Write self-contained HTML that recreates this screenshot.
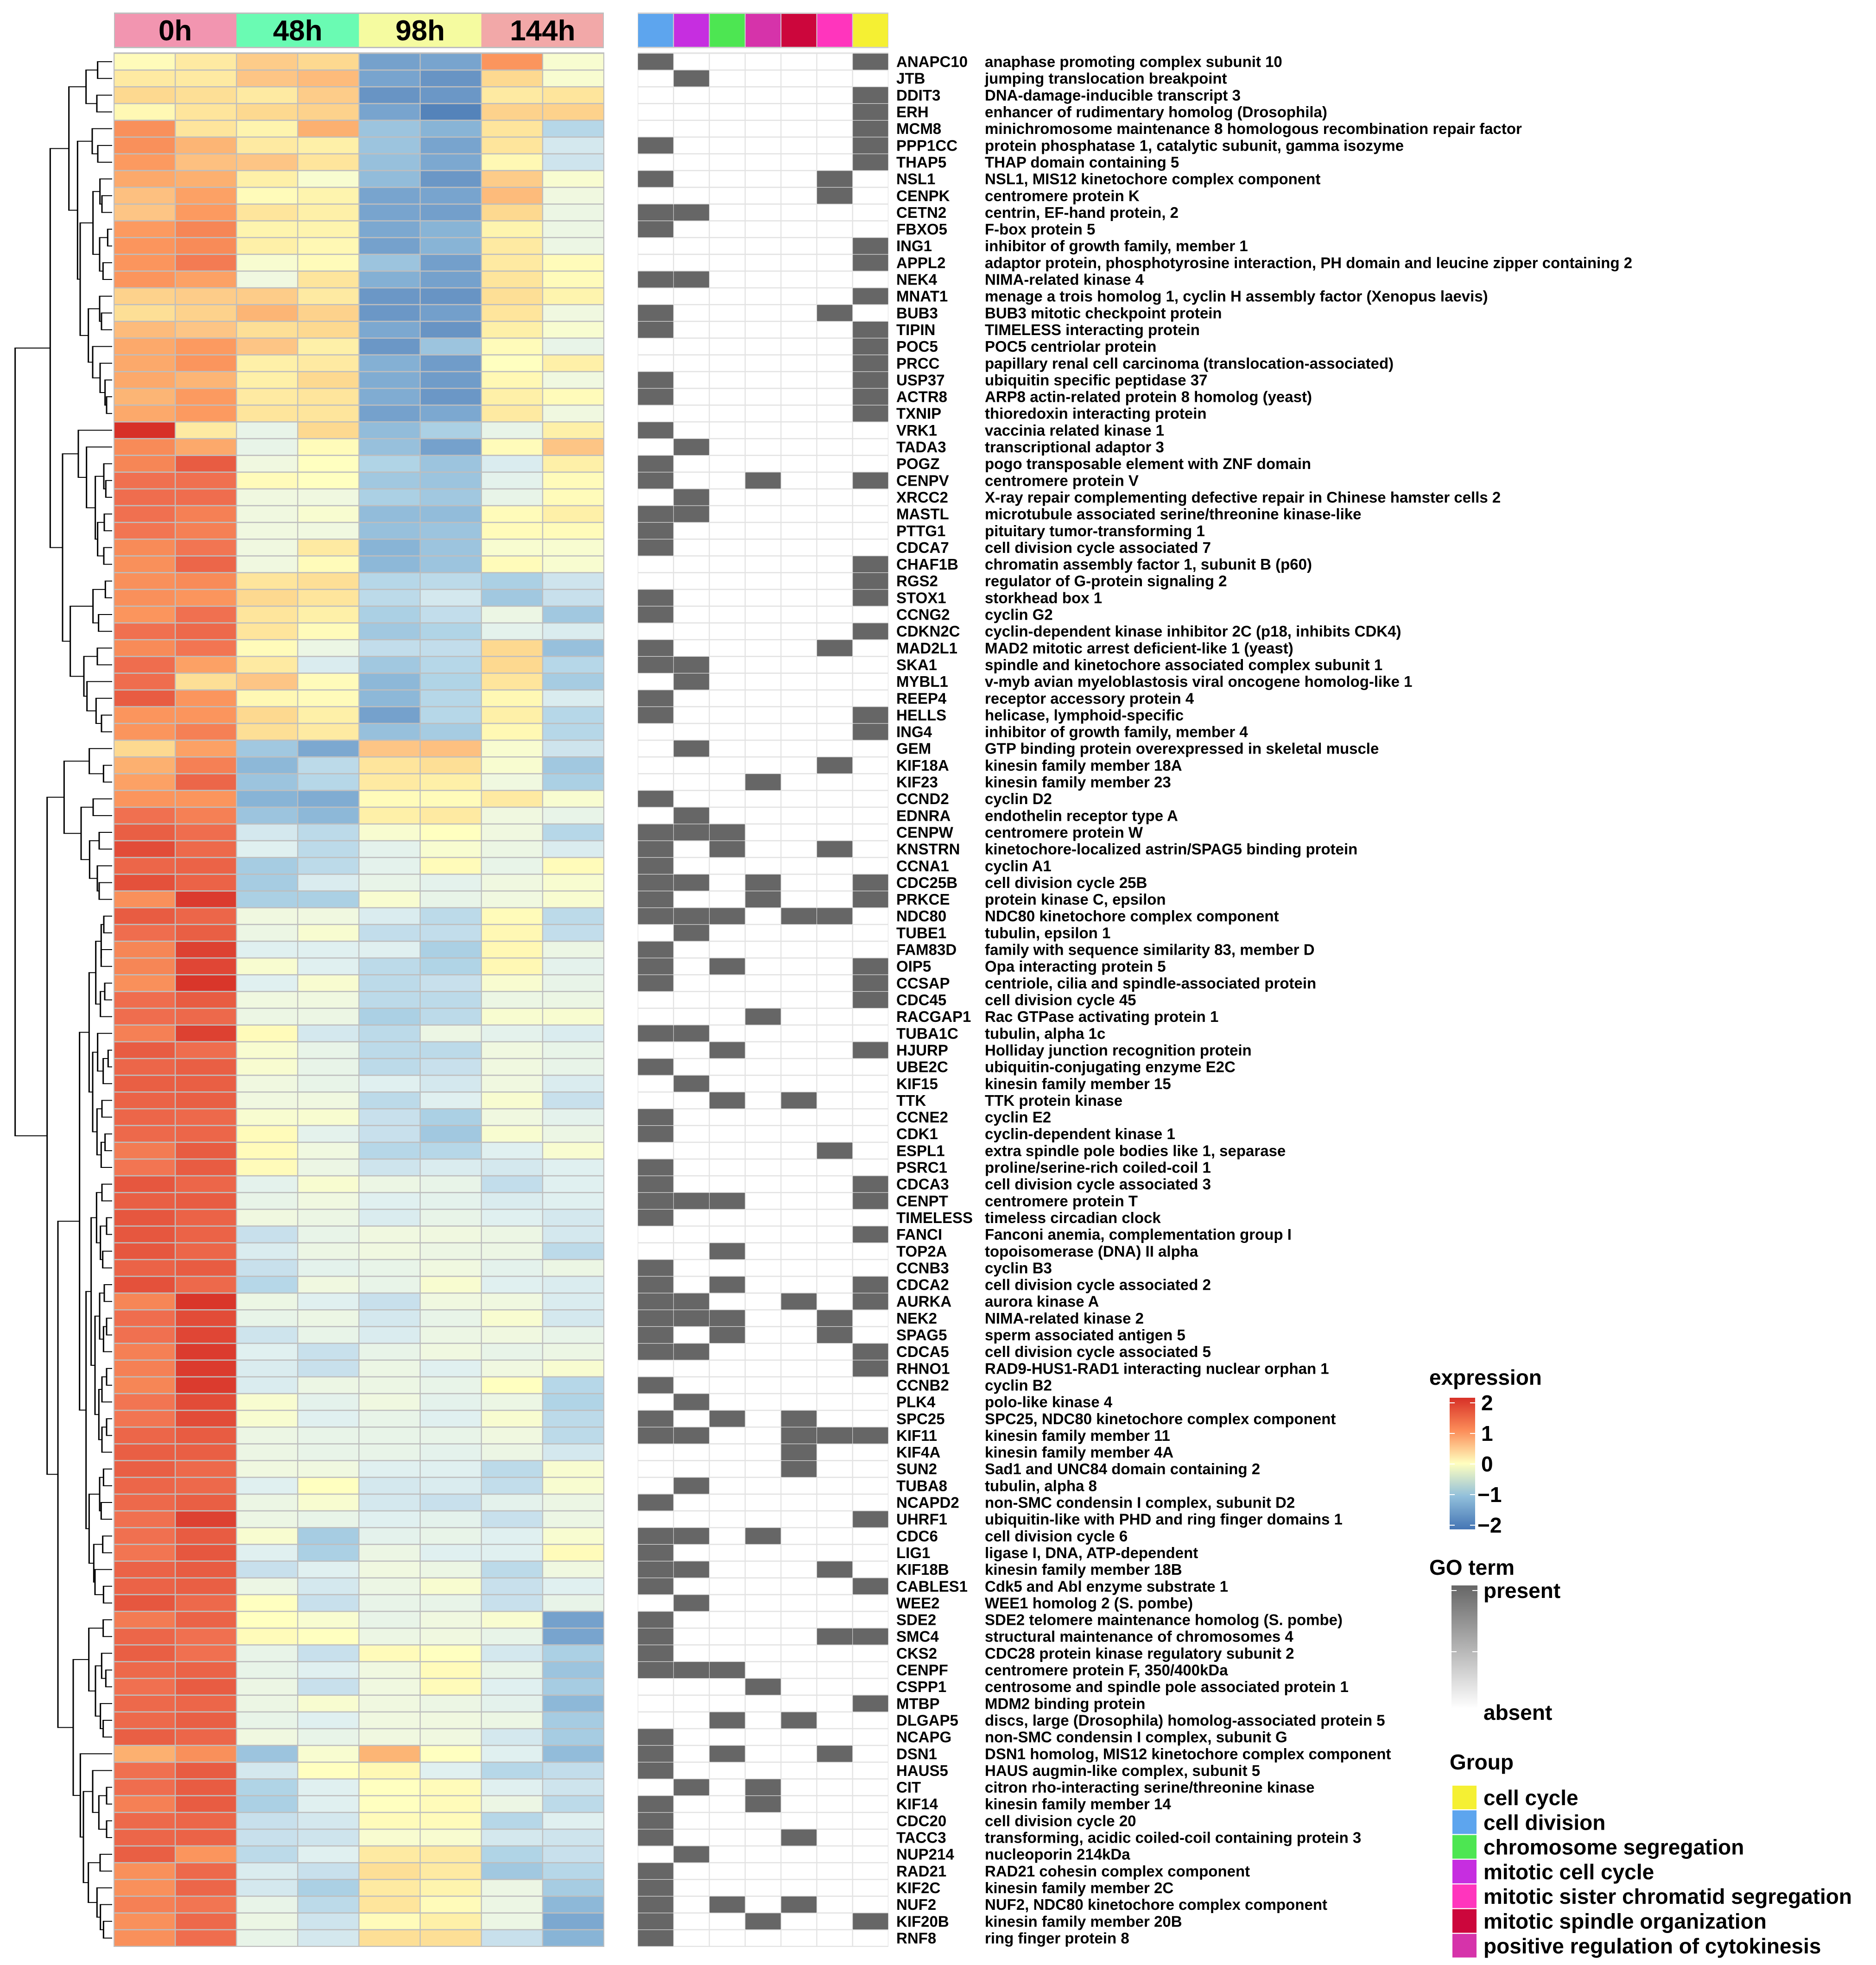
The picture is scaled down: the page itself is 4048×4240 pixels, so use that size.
<!DOCTYPE html>
<html><head><meta charset="utf-8">
<style>
html,body{margin:0;padding:0;background:#fff;}
svg{display:block;font-family:"Liberation Sans",sans-serif;font-weight:bold;}
</style></head>
<body>
<svg id="chart" xmlns="http://www.w3.org/2000/svg" width="4048" height="4240" viewBox="0 0 4048 4240">
<rect x="0" y="0" width="4048" height="4240" fill="#ffffff"/>
<g id="dendro"></g>
<g id="heat"></g>
<g id="go"></g>
<g id="labels"></g>
<g id="legend"></g>
</svg>
<script>
const genes = ["ANAPC10","JTB","DDIT3","ERH","MCM8","PPP1CC","THAP5","NSL1","CENPK","CETN2","FBXO5","ING1","APPL2","NEK4","MNAT1","BUB3","TIPIN","POC5","PRCC","USP37","ACTR8","TXNIP","VRK1","TADA3","POGZ","CENPV","XRCC2","MASTL","PTTG1","CDCA7","CHAF1B","RGS2","STOX1","CCNG2","CDKN2C","MAD2L1","SKA1","MYBL1","REEP4","HELLS","ING4","GEM","KIF18A","KIF23","CCND2","EDNRA","CENPW","KNSTRN","CCNA1","CDC25B","PRKCE","NDC80","TUBE1","FAM83D","OIP5","CCSAP","CDC45","RACGAP1","TUBA1C","HJURP","UBE2C","KIF15","TTK","CCNE2","CDK1","ESPL1","PSRC1","CDCA3","CENPT","TIMELESS","FANCI","TOP2A","CCNB3","CDCA2","AURKA","NEK2","SPAG5","CDCA5","RHNO1","CCNB2","PLK4","SPC25","KIF11","KIF4A","SUN2","TUBA8","NCAPD2","UHRF1","CDC6","LIG1","KIF18B","CABLES1","WEE2","SDE2","SMC4","CKS2","CENPF","CSPP1","MTBP","DLGAP5","NCAPG","DSN1","HAUS5","CIT","KIF14","CDC20","TACC3","NUP214","RAD21","KIF2C","NUF2","KIF20B","RNF8"];
const descriptions = ["anaphase promoting complex subunit 10","jumping translocation breakpoint","DNA-damage-inducible transcript 3","enhancer of rudimentary homolog (Drosophila)","minichromosome maintenance 8 homologous recombination repair factor","protein phosphatase 1, catalytic subunit, gamma isozyme","THAP domain containing 5","NSL1, MIS12 kinetochore complex component","centromere protein K","centrin, EF-hand protein, 2","F-box protein 5","inhibitor of growth family, member 1","adaptor protein, phosphotyrosine interaction, PH domain and leucine zipper containing 2","NIMA-related kinase 4","menage a trois homolog 1, cyclin H assembly factor (Xenopus laevis)","BUB3 mitotic checkpoint protein","TIMELESS interacting protein","POC5 centriolar protein","papillary renal cell carcinoma (translocation-associated)","ubiquitin specific peptidase 37","ARP8 actin-related protein 8 homolog (yeast)","thioredoxin interacting protein","vaccinia related kinase 1","transcriptional adaptor 3","pogo transposable element with ZNF domain","centromere protein V","X-ray repair complementing defective repair in Chinese hamster cells 2","microtubule associated serine/threonine kinase-like","pituitary tumor-transforming 1","cell division cycle associated 7","chromatin assembly factor 1, subunit B (p60)","regulator of G-protein signaling 2","storkhead box 1","cyclin G2","cyclin-dependent kinase inhibitor 2C (p18, inhibits CDK4)","MAD2 mitotic arrest deficient-like 1 (yeast)","spindle and kinetochore associated complex subunit 1","v-myb avian myeloblastosis viral oncogene homolog-like 1","receptor accessory protein 4","helicase, lymphoid-specific","inhibitor of growth family, member 4","GTP binding protein overexpressed in skeletal muscle","kinesin family member 18A","kinesin family member 23","cyclin D2","endothelin receptor type A","centromere protein W","kinetochore-localized astrin/SPAG5 binding protein","cyclin A1","cell division cycle 25B","protein kinase C, epsilon","NDC80 kinetochore complex component","tubulin, epsilon 1","family with sequence similarity 83, member D","Opa interacting protein 5","centriole, cilia and spindle-associated protein","cell division cycle 45","Rac GTPase activating protein 1","tubulin, alpha 1c","Holliday junction recognition protein","ubiquitin-conjugating enzyme E2C","kinesin family member 15","TTK protein kinase","cyclin E2","cyclin-dependent kinase 1","extra spindle pole bodies like 1, separase","proline/serine-rich coiled-coil 1","cell division cycle associated 3","centromere protein T","timeless circadian clock","Fanconi anemia, complementation group I","topoisomerase (DNA) II alpha","cyclin B3","cell division cycle associated 2","aurora kinase A","NIMA-related kinase 2","sperm associated antigen 5","cell division cycle associated 5","RAD9-HUS1-RAD1 interacting nuclear orphan 1","cyclin B2","polo-like kinase 4","SPC25, NDC80 kinetochore complex component","kinesin family member 11","kinesin family member 4A","Sad1 and UNC84 domain containing 2","tubulin, alpha 8","non-SMC condensin I complex, subunit D2","ubiquitin-like with PHD and ring finger domains 1","cell division cycle 6","ligase I, DNA, ATP-dependent","kinesin family member 18B","Cdk5 and Abl enzyme substrate 1","WEE1 homolog 2 (S. pombe)","SDE2 telomere maintenance homolog (S. pombe)","structural maintenance of chromosomes 4","CDC28 protein kinase regulatory subunit 2","centromere protein F, 350/400kDa","centrosome and spindle pole associated protein 1","MDM2 binding protein","discs, large (Drosophila) homolog-associated protein 5","non-SMC condensin I complex, subunit G","DSN1 homolog, MIS12 kinetochore complex component","HAUS augmin-like complex, subunit 5","citron rho-interacting serine/threonine kinase","kinesin family member 14","cell division cycle 20","transforming, acidic coiled-coil containing protein 3","nucleoporin 214kDa","RAD21 cohesin complex component","kinesin family member 2C","NUF2, NDC80 kinetochore complex component","kinesin family member 20B","ring finger protein 8"];
const timepoints = ["0h","48h","98h","144h"];
const timeColors = ["#f295b0","#6afbb3","#f5fba0","#f2a8a8"];
const goColumnColors = ["#5da5ee","#c62ee0","#4de652","#d633aa","#cc063c","#ff35bd","#f5f033"];
const groupNames = ["cell cycle","cell division","chromosome segregation","mitotic cell cycle","mitotic sister chromatid segregation","mitotic spindle organization","positive regulation of cytokinesis"];
const groupColors = ["#f5f033","#5da5ee","#4de652","#c62ee0","#ff35bd","#cc063c","#d633aa"];
const exprTicks = [2,1,0,-1,-2];
const expression = [
[0.05,0.25,0.5,0.4,-1.35,-1.3,0.95,-0.05],[0.25,0.25,0.55,0.65,-1.3,-1.6,0.4,-0.05],[0.4,0.35,0.25,0.5,-1.6,-1.55,0.25,0.3],[0.1,0.3,0.4,0.45,-1.3,-1.85,0.45,0.45],
[1.0,0.3,0.15,0.75,-0.9,-1.1,0.3,-0.65],[1.0,0.7,0.25,0.2,-0.9,-1.3,0.3,-0.4],[0.9,0.6,0.55,0.3,-0.95,-1.25,0.1,-0.45],[0.8,0.75,0.2,-0.05,-1.0,-1.55,0.5,-0.05],
[0.6,0.85,0.05,0.15,-1.3,-1.3,0.65,-0.1],[0.55,0.9,0.3,0.2,-1.3,-1.4,0.4,-0.15],[0.9,1.1,0.15,0.15,-1.25,-1.1,0.15,-0.15],[0.95,1.05,0.2,0.1,-1.35,-1.1,0.25,-0.15],
[0.95,1.2,-0.05,0.05,-0.9,-1.4,0.25,0.05],[0.95,0.85,-0.1,0.3,-1.15,-1.35,0.3,0.05],[0.45,0.5,0.5,0.25,-1.55,-1.6,0.35,0.15],[0.35,0.45,0.7,0.45,-1.55,-1.4,0.3,-0.1],
[0.65,0.55,0.35,0.4,-1.25,-1.6,0.2,-0.05],[0.8,0.9,0.55,0.2,-1.55,-0.9,0.05,-0.2],[0.8,0.95,0.2,0.25,-1.15,-1.45,0.0,0.2],[0.8,0.7,0.2,0.4,-1.2,-1.45,0.1,-0.1],
[0.7,0.9,0.25,0.3,-1.2,-1.55,0.2,0.05],[0.8,0.9,0.3,0.3,-1.35,-1.25,0.25,-0.1],[2.0,0.25,-0.2,0.4,-1.0,-0.75,-0.2,0.2],[1.05,0.8,-0.2,0.05,-0.95,-1.35,0.05,0.55],
[1.1,1.6,-0.1,0.0,-0.7,-0.9,-0.35,0.2],[1.3,1.3,0.05,0.0,-0.85,-0.9,-0.25,0.05],[1.35,1.35,-0.1,-0.1,-0.75,-0.85,-0.2,0.05],[1.3,1.15,-0.1,-0.05,-1.0,-1.0,0.05,0.2],
[1.25,1.15,-0.1,-0.1,-0.95,-0.9,0.05,0.05],[1.05,1.25,-0.1,0.25,-1.1,-0.9,-0.05,-0.05],[1.0,1.45,-0.1,0.05,-1.05,-0.9,0.05,-0.05],[1.0,1.05,0.3,0.35,-0.65,-0.6,-0.75,-0.45],
[1.0,0.95,0.4,0.3,-0.6,-0.4,-0.85,-0.5],[0.95,1.3,0.3,0.2,-0.75,-0.55,-0.15,-0.85],[1.3,1.4,0.3,0.05,-0.85,-0.7,-0.25,-0.35],[1.05,1.25,0.05,-0.15,-0.55,-0.55,0.4,-0.95],
[1.35,0.85,0.25,-0.35,-0.85,-0.65,0.4,-0.65],[1.35,0.35,0.55,0.05,-1.05,-0.7,0.3,-0.8],[1.6,0.95,0.1,0.05,-1.05,-0.65,0.1,-0.35],[0.95,0.95,0.4,0.2,-1.35,-0.65,0.2,-0.65],
[0.95,1.15,0.35,0.25,-0.95,-0.8,0.1,-0.65],[0.4,0.85,-0.85,-1.25,0.55,0.6,-0.05,-0.45],[0.75,1.15,-1.05,-0.6,0.3,0.35,-0.05,-0.85],[0.85,1.45,-0.9,-0.65,0.25,0.2,-0.1,-0.75],
[0.95,0.95,-1.1,-1.2,0.05,0.05,0.25,-0.05],[1.3,1.15,-0.9,-1.05,0.2,0.25,-0.1,-0.2],[1.55,1.35,-0.4,-0.6,-0.05,0.0,-0.1,-0.65],[1.75,1.4,-0.3,-0.6,-0.25,-0.05,-0.15,-0.35],
[1.45,1.5,-0.8,-0.6,-0.25,0.05,-0.2,0.05],[1.7,1.5,-0.8,-0.35,-0.2,-0.25,-0.1,-0.05],[1.0,1.9,-0.75,-0.75,-0.05,-0.2,-0.1,-0.05],[1.6,1.45,-0.1,-0.1,-0.35,-0.6,0.05,-0.6],
[1.35,1.55,-0.15,-0.05,-0.55,-0.55,0.1,-0.55],[1.1,1.85,-0.3,-0.3,-0.3,-0.75,0.1,-0.15],[1.1,1.8,-0.05,-0.3,-0.6,-0.7,0.1,-0.25],[1.0,1.95,-0.3,-0.05,-0.6,-0.5,-0.05,-0.2],
[1.35,1.6,-0.1,-0.1,-0.6,-0.6,-0.15,-0.15],[1.35,1.4,-0.15,-0.15,-0.75,-0.6,-0.05,-0.05],[1.15,1.85,0.05,-0.4,-0.6,-0.15,-0.25,-0.35],[1.6,1.35,-0.05,-0.2,-0.6,-0.6,-0.1,-0.2],
[1.45,1.55,-0.05,-0.2,-0.6,-0.5,-0.1,-0.2],[1.55,1.55,-0.1,-0.2,-0.3,-0.4,-0.1,-0.35],[1.5,1.55,-0.1,-0.1,-0.6,-0.3,-0.05,-0.5],[1.45,1.4,-0.05,-0.05,-0.5,-0.75,-0.1,-0.25],
[1.4,1.45,0.05,-0.25,-0.5,-0.85,-0.05,-0.15],[1.2,1.6,0.05,-0.1,-0.65,-0.65,-0.3,-0.05],[1.25,1.6,0.05,-0.15,-0.45,-0.35,-0.4,-0.3],[1.65,1.45,-0.25,-0.05,-0.15,-0.2,-0.55,-0.3],
[1.55,1.6,-0.2,-0.1,-0.3,-0.25,-0.35,-0.3],[1.65,1.5,-0.1,-0.15,-0.35,-0.2,-0.3,-0.4],[1.65,1.5,-0.5,-0.2,-0.1,-0.1,-0.15,-0.4],[1.65,1.45,-0.35,-0.15,-0.1,-0.15,-0.15,-0.6],
[1.5,1.6,-0.5,-0.25,-0.2,-0.1,-0.25,-0.15],[1.7,1.4,-0.65,-0.1,-0.2,-0.05,-0.3,-0.35],[1.1,1.95,-0.15,-0.3,-0.5,-0.1,-0.1,-0.35],[1.35,1.75,-0.2,-0.15,-0.4,-0.2,-0.05,-0.4],
[1.3,1.8,-0.45,-0.2,-0.35,-0.15,-0.1,-0.2],[1.15,1.9,-0.3,-0.5,-0.2,-0.1,-0.2,-0.15],[1.15,1.9,-0.35,-0.5,-0.15,-0.3,-0.1,-0.05],[1.1,1.9,-0.35,-0.15,-0.15,-0.2,0.0,-0.65],
[1.25,1.75,-0.05,-0.25,-0.1,-0.25,-0.15,-0.7],[1.25,1.75,-0.05,-0.3,-0.2,-0.3,-0.05,-0.6],[1.45,1.6,-0.15,-0.2,-0.2,-0.2,-0.1,-0.6],[1.55,1.55,-0.15,-0.2,-0.2,-0.25,-0.15,-0.4],
[1.55,1.4,-0.1,-0.1,-0.3,-0.3,-0.6,-0.05],[1.45,1.4,-0.3,0.0,-0.4,-0.35,-0.55,-0.05],[1.4,1.55,-0.15,-0.05,-0.4,-0.5,-0.25,-0.15],[1.3,1.85,-0.15,-0.2,-0.3,-0.25,-0.5,-0.15],
[1.3,1.6,-0.05,-0.8,-0.25,-0.2,-0.3,-0.05],[1.25,1.65,-0.3,-0.75,-0.15,-0.3,-0.3,0.05],[1.5,1.6,-0.5,-0.3,-0.1,-0.15,-0.6,-0.1],[1.5,1.55,-0.15,-0.4,-0.15,-0.05,-0.5,-0.3],
[1.65,1.4,0.0,-0.5,-0.2,-0.2,-0.5,-0.2],[1.2,1.5,0.0,-0.05,-0.2,-0.1,-0.05,-1.35],[1.45,1.3,0.05,0.0,-0.15,-0.1,-0.2,-1.3],[1.55,1.3,-0.2,-0.5,0.05,0.0,-0.4,-0.75],
[1.4,1.5,-0.2,-0.3,-0.1,0.05,-0.2,-0.9],[1.3,1.6,-0.15,-0.5,-0.1,0.05,-0.3,-0.8],[1.4,1.45,-0.15,-0.05,-0.1,-0.15,-0.25,-1.05],[1.4,1.55,-0.2,-0.3,-0.1,-0.1,-0.15,-0.8],
[1.55,1.45,-0.1,-0.2,-0.1,-0.1,-0.4,-0.8],[0.75,1.0,-0.9,-0.05,0.7,0.0,-0.3,-1.0],[1.3,1.6,-0.4,0.0,0.1,-0.3,-0.65,-0.55],[1.35,1.6,-0.7,-0.3,0.0,0.05,-0.3,-0.45],
[1.15,1.6,-0.75,-0.3,0.0,0.05,-0.15,-0.6],[1.4,1.45,-0.5,-0.4,0.05,0.05,-0.65,-0.3],[1.45,1.5,-0.5,-0.45,-0.05,-0.05,-0.4,-0.45],[1.55,0.95,-0.6,-0.3,0.25,0.25,-0.7,-0.5],
[1.0,1.4,-0.35,-0.5,0.35,0.25,-0.85,-0.65],[1.0,1.45,-0.4,-0.75,0.25,0.15,-0.15,-0.8],[1.15,1.25,-0.2,-0.6,0.3,0.05,-0.15,-1.05],[1.0,1.4,-0.15,-0.45,0.05,0.2,-0.15,-1.25],
[1.0,1.35,-0.2,-0.4,0.35,0.35,-0.5,-1.1]];
const goPresent = [[0,6],[1],[6],[6],[6],[0,6],[6],[0,5],[5],[0,1],[0],[6],[6],[0,1],[6],[0,5],[0,6],[6],[6],[0,6],[0,6],[6],[0],[1],[0],[0,3,6],[1],[0,1],[0],[0],[6],[6],[0,6],[0],[6],[0,5],[0,1],[1],[0],[0,6],[6],[1],[5],[3],[0],[1],[0,1,2],[0,2,5],[0],[0,1,3,6],[0,3,6],[0,1,2,4,5],[1],[0],[0,2,6],[0,6],[6],[3],[0,1],[2,6],[0],[1],[2,4],[0],[0],[5],[0],[0,6],[0,1,2,6],[0],[6],[2],[0],[0,2,6],[0,1,4,6],[0,1,2,5],[0,2,5],[0,1,6],[6],[0],[1],[0,2,4],[0,1,4,5,6],[4],[4],[1],[0],[6],[0,1,3],[0],[0,1,5],[0,6],[1],[0],[0,5,6],[0],[0,1,2],[3],[6],[2,4],[0],[0,2,5],[0],[1,3],[0,3],[0],[0,4],[1],[0],[0],[0,2,4],[0,3,6],[0]];
const dendroTree = [98,
 [325,
  [446,[557,[632,1,2],[627,3,4]],[502,[597,5,[633,6,7]],[519,[602,[647,8,[660,9,10]],[645,[697,11,12],[667,13,14]]],[572,[645,15,[657,16,17]],[600,18,[648,19,[680,20,[690,21,22]]]]]]]],
  [405,[507,23,[560,24,[617,[672,25,[685,26,27]],[632,[675,28,29],[672,30,31]]]]],[455,[602,[682,32,33],[638,34,35]],[543,[630,36,37],[563,38,[622,39,[657,40,41]]]]]]],
 [305,
  [415,[578,42,[670,43,44]],[525,[603,45,46],[580,[642,47,48],[630,49,[642,50,51]]]]],
  [375,
   [515,
    [577,[620,[655,[672,52,53],[655,54,55]],[650,[678,56,57],58]],[600,[632,59,[668,[700,60,61],62]],[628,[660,63,64],[655,[680,65,66],67]]]],
    [557,[590,[625,[660,68,69],[650,[690,70,71],[665,72,73]]],[615,[645,[675,74,75],[670,[690,76,77],78]],[640,[660,[690,79,80],81],[660,[690,82,83],84]]]],
         [577,[645,[670,85,86],[655,87,88]],[607,[665,89,90],[615,91,[670,92,93]]]]]],
   [474,[575,[668,94,95],[618,[658,96,[685,97,98]],[650,99,[668,100,101]]]],
        [520,102,[540,[600,103,[640,[690,104,105],[690,106,107]]],[572,[648,108,109],[628,110,[650,111,[670,112,113]]]]]]]]]];

const NS = "http://www.w3.org/2000/svg";
const X0 = 246, X1 = 1303, COLW = (X1 - X0) / 8;
const Y0 = 115, Y1 = 4200, ROWH = (Y1 - Y0) / genes.length;
const GX0 = 1376, GX1 = 1917, GCOLW = (GX1 - GX0) / 7;
function xCol(c){ return X0 + c * COLW; }
function yRow(r){ return Y0 + r * ROWH; }
function xGo(c){ return GX0 + c * GCOLW; }
function el(tag, attrs, parent){ const e = document.createElementNS(NS, tag); for (const k in attrs) e.setAttribute(k, attrs[k]); parent.appendChild(e); return e; }
function hex(h){ return [parseInt(h.slice(1,3),16),parseInt(h.slice(3,5),16),parseInt(h.slice(5,7),16)]; }
const stops = [[-2,"#4575b4"],[-1.9,"#5080b8"],[-1.6,"#6894c4"],[-1.3,"#78a4ce"],[-1.1,"#88b4d6"],[-0.9,"#9cc4de"],[-0.7,"#b0d4e6"],[-0.5,"#c8e0ec"],[-0.3,"#e0f0f0"],[-0.1,"#f0f8e0"],[0,"#ffffc0"],[0.2,"#fef0a8"],[0.4,"#fdd990"],[0.55,"#fdc585"],[0.75,"#fcb070"],[0.9,"#fc9a60"],[1.05,"#f88b58"],[1.3,"#f07050"],[1.6,"#e85c42"],[2,"#d73027"]].map(s => [s[0], hex(s[1])]);
function colorScale(v){
  v = Math.max(-2, Math.min(2, v));
  for (let i = 0; i < stops.length - 1; i++){
    const a = stops[i], b = stops[i+1];
    if (v >= a[0] && v <= b[0]){
      const t = (v - a[0]) / (b[0] - a[0]);
      const c = a[1].map((x, j) => Math.round(x + (b[1][j] - x) * t));
      return "rgb(" + c.join(",") + ")";
    }
  }
  return "#ffffbf";
}

const heat = document.getElementById("heat");
const hdr = el("rect", {x: X0, y: 27, width: X1 - X0, height: 77, fill: "#bebebe"}, heat);


timepoints.forEach((t, i) => {
  const r = el("rect", {x: xCol(i*2) + (i===0?2:0), y: 30, width: COLW*2 - (i===0?2:0) - (i===3?2:0), height: 71, fill: timeColors[i]}, heat);
  
  
  const tx = el("text", {x: xCol(i*2) + COLW, y: 87, "text-anchor": "middle", "font-size": 62, fill: "#000"}, heat);
  tx.textContent = t;
  
  
});
const hbg = el("rect", {x: X0 - 1, y: Y0 - 2, width: X1 - X0 + 2, height: Y1 - Y0 + 3, fill: "#bebebe"}, heat);


expression.forEach((row, r) => {
  row.forEach((v, c) => {
    const cell = el("rect", {x: xCol(c) + 1.2, y: yRow(r) + 1.3, width: COLW - 2.4, height: ROWH - 2.6, fill: colorScale(v)}, heat);
    
    
  });
});

const go = document.getElementById("go");
const gh = el("rect", {x: GX0, y: 27, width: GX1 - GX0, height: 77, fill: "#cfcfcf"}, go);


goColumnColors.forEach((col, i) => {
  const r = el("rect", {x: xGo(i) + 1, y: 30, width: GCOLW - 2, height: 71, fill: col}, go);
  
  
});
const gbg = el("rect", {x: GX0, y: Y0 - 2, width: GX1 - GX0, height: Y1 - Y0 + 3, fill: "#e3e3e3"}, go);


goPresent.forEach((list, r) => {
  for (let c = 0; c < 7; c++){
    const on = list.indexOf(c) >= 0;
    const cell = el("rect", {x: xGo(c) + (on?0.5:1.2), y: yRow(r) + (on?0.6:1.3), width: GCOLW - (on?1:2.4), height: ROWH - (on?1.2:2.6), fill: on ? "#666666" : "#ffffff"}, go);
    
    
  }
});

const labels = document.getElementById("labels");
genes.forEach((g, r) => {
  const yc = yRow(r) + ROWH/2 + 11.5;
  const t1 = el("text", {x: 1934, y: yc, "font-size": 33, fill: "#000"}, labels);
  t1.textContent = g;
  
  
  const t2 = el("text", {x: 2125, y: yc, "font-size": 33, fill: "#000"}, labels);
  t2.textContent = descriptions[r];
  
  
});

const dendro = document.getElementById("dendro");
const LEAFX = 242;
function drawNode(n){
  if (typeof n === "number") return {x: LEAFX, y: yRow(n - 1) + ROWH/2};
  const x = n[0] / 3;
  const a = drawNode(n[1]), b = drawNode(n[2]);
  const v = el("line", {x1: x, y1: a.y, x2: x, y2: b.y, stroke: "#000", "stroke-width": 3}, dendro);
  
  
  const h1 = el("line", {x1: x - 1.5, y1: a.y, x2: a.x, y2: a.y, stroke: "#000", "stroke-width": 2}, dendro);
  
  
  const h2 = el("line", {x1: x - 1.5, y1: b.y, x2: b.x, y2: b.y, stroke: "#000", "stroke-width": 2}, dendro);
  
  
  return {x: x, y: (a.y + b.y) / 2};
}
drawNode(dendroTree);

const lg = document.getElementById("legend");
const defs = el("defs", {}, lg);
const g1 = el("linearGradient", {id: "exprGrad", x1: 0, y1: 0, x2: 0, y2: 1}, defs);
[["0","#d73027"],["0.25","#fc8d59"],["0.5","#ffffbf"],["0.75","#91bfdb"],["1","#4575b4"]].forEach(s => el("stop", {offset: s[0], "stop-color": s[1]}, g1));
const g2 = el("linearGradient", {id: "goGrad", x1: 0, y1: 0, x2: 0, y2: 1}, defs);
[["0","#666666"],["1","#ffffff"]].forEach(s => el("stop", {offset: s[0], "stop-color": s[1]}, g2));

const et = el("text", {x: 3084, y: 2988, "font-size": 46, fill: "#000"}, lg);
et.textContent = "expression";


const eb = el("rect", {x: 3128, y: 3016, width: 55, height: 284, fill: "url(#exprGrad)"}, lg);


exprTicks.forEach(v => {
  const y = 3027 + (2 - v) * 66;
  const t1 = el("line", {x1: 3128, y1: y, x2: 3139, y2: y, stroke: "#fff", "stroke-width": 2}, lg);
  
  
  const t2 = el("line", {x1: 3172, y1: y, x2: 3183, y2: y, stroke: "#fff", "stroke-width": 2}, lg);
  
  
  const tl = el("text", {x: v < 0 ? 3188 : 3196, y: y + 16, "font-size": 46, fill: "#000"}, lg);
  tl.textContent = v < 0 ? "\u2212" + Math.abs(v) : String(v);
  
  
});

const gt = el("text", {x: 3084, y: 3398, "font-size": 46, fill: "#000"}, lg);
gt.textContent = "GO term";


const gb = el("rect", {x: 3132, y: 3421, width: 56, height: 266, fill: "url(#goGrad)"}, lg);


[3432, 3564].forEach(y => {
  const a = el("line", {x1: 3132, y1: y, x2: 3143, y2: y, stroke: "#fff", "stroke-width": 2}, lg);
  
  
  const b = el("line", {x1: 3177, y1: y, x2: 3188, y2: y, stroke: "#fff", "stroke-width": 2}, lg);
  
  
});
const pr = el("text", {x: 3201, y: 3448, "font-size": 46, fill: "#000"}, lg);
pr.textContent = "present";


const ab = el("text", {x: 3201, y: 3711, "font-size": 46, fill: "#000"}, lg);
ab.textContent = "absent";



const grt = el("text", {x: 3128, y: 3818, "font-size": 46, fill: "#000"}, lg);
grt.textContent = "Group";


groupNames.forEach((n, i) => {
  const y = 3853 + i * 53.3;
  const sw = el("rect", {x: 3134, y: y, width: 52, height: 51, fill: groupColors[i]}, lg);
  
  
  const tx = el("text", {x: 3201, y: y + 42, "font-size": 46, fill: "#000"}, lg);
  tx.textContent = n;
  
  
});
</script>
</body></html>
